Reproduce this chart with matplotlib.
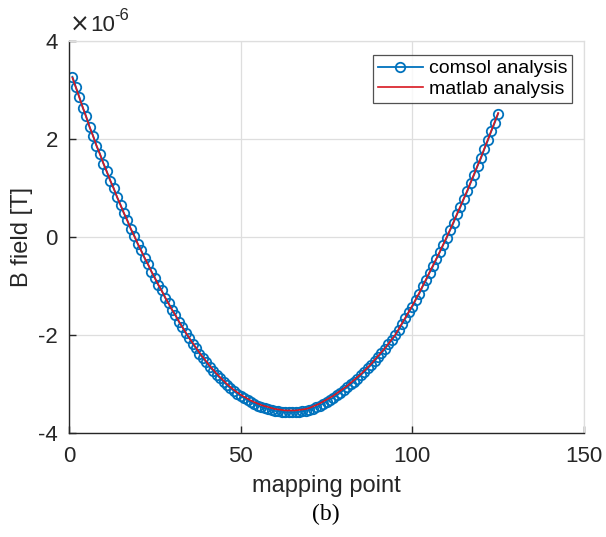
import matplotlib
matplotlib.use("Agg")
import matplotlib.pyplot as plt
from matplotlib.ticker import FuncFormatter

plt.rcParams['font.family'] = ['Liberation Sans', 'DejaVu Sans']

# mapping point index
points = list(range(1, 126))

# matlab analysis (units of 1e-6 T)
matlab_uT = [
    3.25, 3.05, 2.85, 2.65, 2.45, 2.25, 2.06, 1.87, 1.69, 1.51,
    1.33, 1.16, 0.99, 0.82, 0.65, 0.49, 0.33, 0.17, 0.02, -0.13,
    -0.28, -0.42, -0.56, -0.70, -0.84, -0.97, -1.10, -1.23, -1.36, -1.48,
    -1.60, -1.72, -1.84, -1.95, -2.06, -2.16, -2.26, -2.36, -2.45, -2.54,
    -2.63, -2.71, -2.79, -2.86, -2.93, -3.00, -3.06, -3.12, -3.17, -3.22,
    -3.26, -3.30, -3.34, -3.37, -3.40, -3.43, -3.45, -3.47, -3.49, -3.51,
    -3.52, -3.53, -3.54, -3.54, -3.54, -3.54, -3.53, -3.52, -3.51, -3.49,
    -3.46, -3.43, -3.40, -3.36, -3.32, -3.28, -3.24, -3.19, -3.14, -3.09,
    -3.04, -2.98, -2.92, -2.86, -2.80, -2.73, -2.66, -2.59, -2.51, -2.43,
    -2.35, -2.27, -2.18, -2.09, -2.00, -1.88, -1.76, -1.64, -1.52, -1.40,
    -1.27, -1.14, -1.00, -0.86, -0.72, -0.58, -0.44, -0.30, -0.15, 0.00,
    0.15, 0.31, 0.47, 0.63, 0.79, 0.95, 1.12, 1.29, 1.46, 1.63,
    1.81, 1.99, 2.17, 2.35, 2.53,
]

# comsol analysis (units of 1e-6 T)
comsol_uT = [
    3.27, 3.06, 2.86, 2.64, 2.46, 2.24, 2.07, 1.86, 1.70, 1.50,
    1.34, 1.15, 1.00, 0.81, 0.66, 0.48, 0.34, 0.16, 0.03, -0.14,
    -0.27, -0.43, -0.55, -0.71, -0.83, -0.98, -1.09, -1.24, -1.35, -1.49,
    -1.59, -1.73, -1.83, -1.96, -2.06, -2.18, -2.27, -2.38, -2.47, -2.56,
    -2.65, -2.73, -2.81, -2.88, -2.96, -3.02, -3.09, -3.14, -3.20, -3.24,
    -3.29, -3.33, -3.37, -3.41, -3.44, -3.47, -3.49, -3.51, -3.53, -3.55,
    -3.56, -3.57, -3.58, -3.58, -3.58, -3.58, -3.57, -3.56, -3.55, -3.53,
    -3.50, -3.47, -3.44, -3.40, -3.36, -3.32, -3.28, -3.23, -3.18, -3.12,
    -3.07, -3.01, -2.95, -2.89, -2.82, -2.75, -2.68, -2.61, -2.53, -2.45,
    -2.37, -2.28, -2.19, -2.10, -2.01, -1.90, -1.77, -1.66, -1.53, -1.42,
    -1.28, -1.16, -1.01, -0.88, -0.73, -0.60, -0.45, -0.31, -0.16, -0.02,
    0.14, 0.29, 0.46, 0.61, 0.78, 0.93, 1.11, 1.27, 1.45, 1.61,
    1.80, 1.97, 2.16, 2.33, 2.52,
]

scale = 1e-6
matlab_T = [v * scale for v in matlab_uT]
comsol_T = [v * scale for v in comsol_uT]

xticks = [0, 50, 100, 150]
yticks_uT = [-4, -2, 0, 2, 4]

fig = plt.figure(figsize=(6.06, 5.37), dpi=100)
ax = fig.add_axes([69/606, 1 - 433/537, (584-69)/606, (433-41)/537])

ax.plot(points, comsol_T, '-o', color='#0072BD', lw=1.3, ms=6.8, mew=1.3,
        mfc='none', label='comsol analysis')
ax.plot(points, matlab_T, '-', color='#d81820', lw=1.2, label='matlab analysis')

ax.set_xlim(0, 150)
ax.set_ylim(-4 * scale, 4 * scale)
ax.set_xticks(xticks)
ax.set_yticks([t * scale for t in yticks_uT])
ax.yaxis.set_major_formatter(FuncFormatter(lambda v, p: f"{v/scale:.0f}".replace('\u2212', '-')))

ax.grid(True, color='#dedede', lw=0.9)
ax.set_axisbelow(True)
for s in ['left', 'bottom']:
    ax.spines[s].set_color('#262626')
    ax.spines[s].set_linewidth(1.0)
for s in ['top', 'right']:
    ax.spines[s].set_color('#dedede')
    ax.spines[s].set_linewidth(0.9)

ax.tick_params(direction='in', length=5, width=1.0, colors='#262626',
               labelsize=16, labelcolor='#262626', top=False, right=False)
ax.tick_params(axis='x', pad=9)
ax.tick_params(axis='y', pad=8)

ax.set_xlabel('mapping point', fontsize=17, color='#262626', labelpad=6)
ax.set_ylabel('B field [T]', fontsize=17, color='#262626', labelpad=4)

ax.text(0.002, 1.012, '\u00d7', transform=ax.transAxes, family=['DejaVu Sans'],
        fontsize=17, color='#262626', ha='left', va='bottom')
ax.text(0.041, 1.012, '10', transform=ax.transAxes,
        fontsize=16, color='#262626', ha='left', va='bottom')
ax.text(0.087, 1.045, '-6', transform=ax.transAxes,
        fontsize=12, color='#262626', ha='left', va='bottom')

leg = ax.legend(loc='upper right', bbox_to_anchor=(1 - 12/515, 1 - 14/392),
                fontsize=14, frameon=True, fancybox=False, borderaxespad=0,
                handlelength=2.3, handletextpad=0.3, borderpad=0.25,
                labelspacing=0.15)
leg.get_frame().set_edgecolor('#262626')
leg.get_frame().set_linewidth(0.9)

fig.text(326/606, 1 - 514/537, '(b)', fontsize=17,
         family=['Liberation Serif', 'DejaVu Serif'], ha='center', va='center')

fig.savefig('out.png', dpi=100)
